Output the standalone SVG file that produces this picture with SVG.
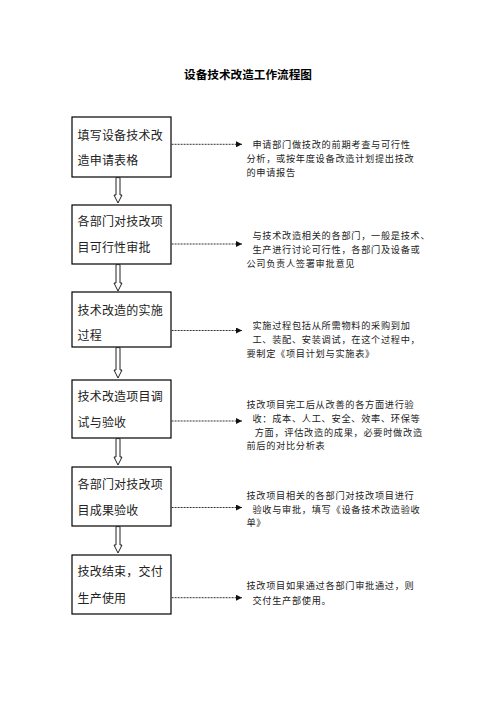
<svg xmlns="http://www.w3.org/2000/svg" width="496" height="702" viewBox="0 0 496 702">
<defs>
<style>
.box{fill:#fff;stroke:#000;stroke-width:1.2}
.bt{font-family:"Noto Sans CJK SC",sans-serif;font-size:12px;letter-spacing:0.2px;fill:#222}
.nt{font-family:"Noto Sans CJK SC",sans-serif;font-size:9.2px;letter-spacing:0.7px;fill:#222}
.title{font-family:"Noto Sans CJK SC",sans-serif;font-size:11.6px;font-weight:bold;fill:#000}
.dash{fill:none;stroke:#333;stroke-width:1;stroke-dasharray:2 1;marker-end:url(#ah)}
.hollow{fill:#fff;stroke:#222;stroke-width:1}
</style>
<marker id="ah" viewBox="0 0 6 6" refX="6" refY="3" markerWidth="6" markerHeight="6" markerUnits="userSpaceOnUse" orient="auto">
<path d="M0,0 L6,3 L0,6 z" fill="#111"/>
</marker>
</defs>
<rect width="496" height="702" fill="#fff"/>
<text id="title" class="title" x="248" y="78.5" text-anchor="middle" textLength="128" lengthAdjust="spacingAndGlyphs">设备技术改造工作流程图</text>

<g id="step1">
<rect class="box" x="72" y="117" width="99" height="60"/>
<text class="bt" x="77.5" y="139.5">填写设备技术改</text>
<text class="bt" x="77.5" y="164.5">造申请表格</text>
</g>
<g id="step2">
<rect class="box" x="72" y="205" width="99" height="59"/>
<text class="bt" x="77.5" y="226">各部门对技改项</text>
<text class="bt" x="77.5" y="252">目可行性审批</text>
</g>
<g id="step3">
<rect class="box" x="72" y="292" width="99" height="55"/>
<text class="bt" x="77.5" y="314.5">技术改造的实施</text>
<text class="bt" x="77.5" y="339.5">过程</text>
</g>
<g id="step4">
<rect class="box" x="72" y="380" width="99" height="58"/>
<text class="bt" x="77.5" y="401">技术改造项目调</text>
<text class="bt" x="77.5" y="426.5">试与验收</text>
</g>
<g id="step5">
<rect class="box" x="72" y="467" width="99" height="59"/>
<text class="bt" x="77.5" y="488.5">各部门对技改项</text>
<text class="bt" x="77.5" y="514.5">目成果验收</text>
</g>
<g id="step6">
<rect class="box" x="72" y="555" width="99" height="59"/>
<text class="bt" x="77.5" y="576">技改结束，交付</text>
<text class="bt" x="77.5" y="602.5">生产使用</text>
</g>

<g id="note1">
<text class="nt" x="252.4" y="148.4">申请部门做技改的前期考查与可行性</text>
<text class="nt" x="246.4" y="162">分析，或按年度设备改造计划提出技改</text>
<text class="nt" x="246.4" y="175.6">的申请报告</text>
</g>
<g id="note2">
<text class="nt" x="252.4" y="239.3">与技术改造相关的各部门，一般是技术、</text>
<text class="nt" x="252.4" y="253">生产进行讨论可行性，各部门及设备或</text>
<text class="nt" x="246.4" y="266.9">公司负责人签署审批意见</text>
</g>
<g id="note3">
<text class="nt" x="252.4" y="329.3">实施过程包括从所需物料的采购到加</text>
<text class="nt" x="252.4" y="343">工、装配、安装调试，在这个过程中，</text>
<text class="nt" x="246.4" y="356.9">要制定《项目计划与实施表》</text>
</g>
<g id="note4">
<text class="nt" x="246.4" y="408.4">技改项目完工后从改善的各方面进行验</text>
<text class="nt" x="252.4" y="422">收：成本、人工、安全、效率、环保等</text>
<text class="nt" x="254.7" y="435.6">方面，评估改造的成果，必要时做改造</text>
<text class="nt" x="246.4" y="449.2">前后的对比分析表</text>
</g>
<g id="note5">
<text class="nt" x="246.4" y="499.2">技改项目相关的各部门对技改项目进行</text>
<text class="nt" x="252.4" y="512.8">验收与审批，填写《设备技术改造验收</text>
<text class="nt" x="246.4" y="526.4">单》</text>
</g>
<g id="note6">
<text class="nt" x="246.4" y="588.6">技改项目如果通过各部门审批通过，则</text>
<text class="nt" x="252.4" y="603.6">交付生产部使用。</text>
</g>

<g id="connectors">
<polygon class="hollow" points="116,177.6 116,195 114,195 118,203 122,195 120,195 120,177.6"/>
<polygon class="hollow" points="116,264.6 116,283 114,283 118,291 122,283 120,283 120,264.6"/>
<polygon class="hollow" points="116,347.6 116,370 114,370 118,378 122,370 120,370 120,347.6"/>
<polygon class="hollow" points="116,438.6 116,457 114,457 118,465 122,457 120,457 120,438.6"/>
<polygon class="hollow" points="116,526.6 116,545 114,545 118,553 122,545 120,545 120,526.6"/>
<line class="dash" x1="171.6" y1="144.3" x2="242" y2="144.3"/>
<line class="dash" x1="171.6" y1="244" x2="242" y2="244"/>
<line class="dash" x1="171.6" y1="330.5" x2="242" y2="330.5"/>
<line class="dash" x1="171.6" y1="421" x2="242" y2="421"/>
<line class="dash" x1="171.6" y1="507.5" x2="242" y2="507.5"/>
<line class="dash" x1="171.6" y1="597.7" x2="242" y2="597.7"/>
</g>
</svg>
